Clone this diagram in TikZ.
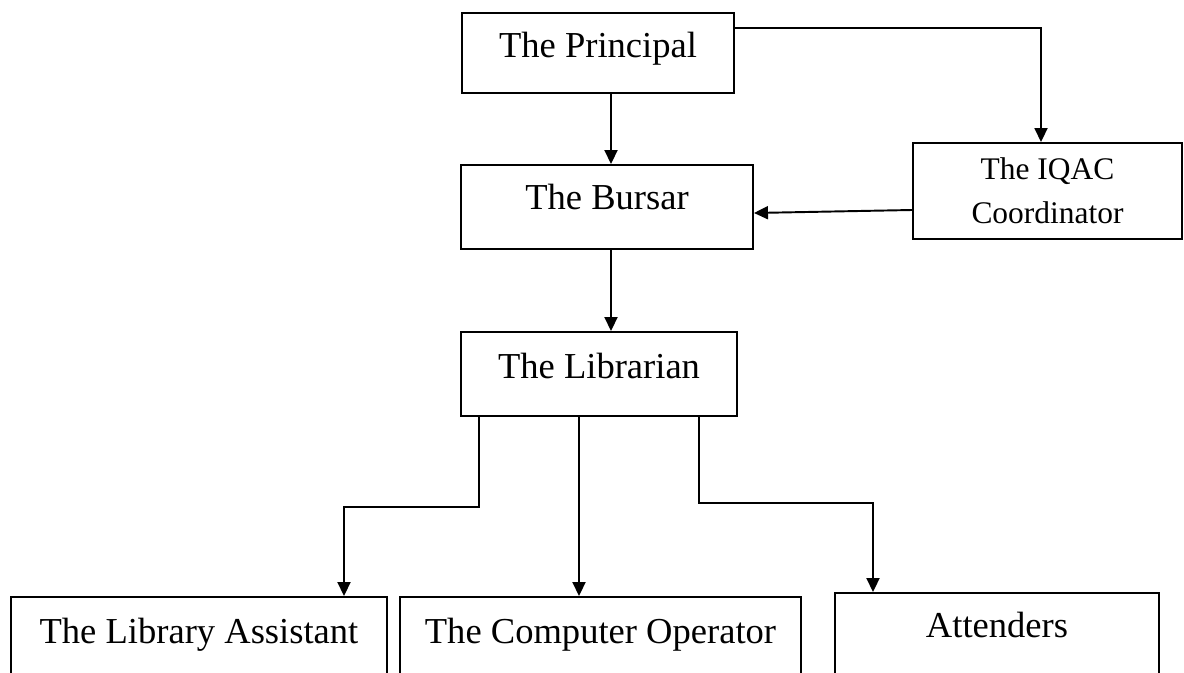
\documentclass[tikz,border=0pt]{standalone}
\usepackage{fontspec}
\setmainfont{Liberation Serif}
\usetikzlibrary{arrows.meta}

\begin{document}
\begin{tikzpicture}[line width=1.1pt,
	box/.style={draw, inner sep=0pt, font=\fontsize{20.8pt}{25pt}\selectfont},
	arr/.style={-{Triangle[length=0.28cm,width=0.26cm]}}]
	\clip (0,0) rectangle (23.68,-13.46);
	\node[box, minimum width=5.44cm, text height=0.9cm, text depth=0.7cm] (principal) at (11.96,-1.06) {The Principal};
	\node[box, minimum width=5.84cm, text height=0.9cm, text depth=0.78cm] (bursar) at (12.14,-4.14) {The Bursar};
	\node[box, minimum width=5.38cm, minimum height=1.92cm, align=center, font=\fontsize{17.9pt}{25pt}\selectfont] (iqac) at (20.95,-3.82) {The IQAC\\Coordinator};
	\node[box, minimum width=5.52cm, text height=0.92cm, text depth=0.76cm] (librarian) at (11.98,-7.48) {The Librarian};
	\node[box, minimum width=7.52cm, text height=0.92cm, text depth=0.94cm] (assistant) at (3.98,-12.87) {The Library Assistant};
	\node[box, minimum width=8.02cm, text height=0.92cm, text depth=0.94cm] (operator) at (12.01,-12.87) {The Computer Operator};
	\node[box, minimum width=6.48cm, text height=0.88cm, text depth=1.06cm] (attenders) at (19.94,-12.83) {Attenders};
	\coordinate (turn) at (20.82,-0.56);
	\draw[arr] ([xshift=0.26cm]principal.south) -- ([xshift=0.08cm]bursar.north);
	\draw[arr] (principal.east |- turn) -- (turn) -- (turn |- iqac.north);
	\draw[arr] ([yshift=-0.38cm]iqac.west) -- ([yshift=-0.12cm]bursar.east);
	\draw[arr] ([xshift=0.08cm]bursar.south) -- ([xshift=0.24cm]librarian.north);
	\draw[arr] ([xshift=-2.4cm]librarian.south) -- ++(0,-1.8) -| ([xshift=2.9cm]assistant.north);
	\draw[arr] ([xshift=-0.4cm]librarian.south) -- ([xshift=-0.43cm]operator.north);
	\draw[arr] ([xshift=2cm]librarian.south) -- ++(0,-1.72) -| ([xshift=-2.48cm]attenders.north);
\end{tikzpicture}
\end{document}
